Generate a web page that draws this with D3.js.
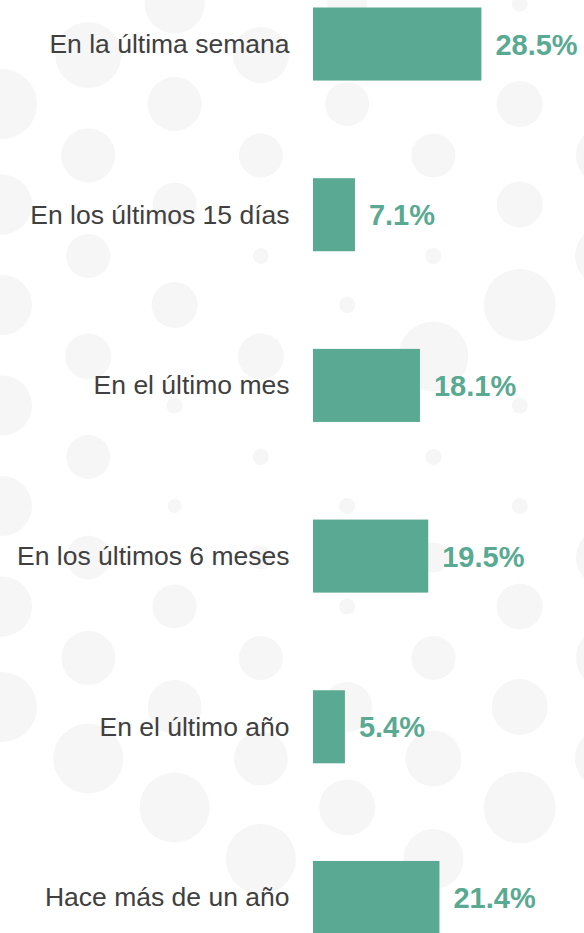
<!DOCTYPE html>
<meta charset="utf-8">
<style>

body {
  margin: 0;
  background: #fff;
}

.label {
  font: 26.5px "Liberation Sans", Arial, sans-serif;
  fill: #404040;
}

.value {
  font: bold 29px "Liberation Sans", Arial, sans-serif;
  fill: #5aa992;
}

.bar {
  fill: #5aa992;
}

.dot {
  fill: #f6f6f6;
}

</style>
<body>
<script src="https://cdn.jsdelivr.net/npm/d3@7"></script>
<script>

var categories = ["En la última semana", "En los últimos 15 días", "En el último mes",
		"En los últimos 6 meses", "En el último año", "Hace más de un año"],
	values = [28.5, 7.1, 18.1, 19.5, 5.4, 21.4],
	valueLabels = ["28.5%", "7.1%", "18.1%", "19.5%", "5.4%", "21.4%"];

// background dots: radius per lattice cell, one row per column
var dotRadii = [
	[0, 35, 30, 30, 30, 30, 30, 35, 0, 0],
	[33, 27, 22, 23, 22, 22, 27, 35, 0, 0],
	[30, 27, 22, 23, 8, 7, 22, 27, 35, 0],
	[28, 22, 8, 23, 8, 12, 22, 27, 35, 0],
	[20, 22, 8, 8, 8, 8, 8, 25, 28, 0],
	[25, 22, 8, 35, 8, 15, 22, 28, 30, 0],
	[8, 23, 23, 36, 8, 8, 23, 28, 36, 0],
	[0, 30, 31, 0, 0, 30, 30, 31, 0, 0]
];

var width = 584,
	height = 933,
	svg = d3.select("body").append("svg")
		.attr("width", width)
		.attr("height", height);

// dotted backdrop
var dots = [];
dotRadii.forEach(function(col, c) {
	col.forEach(function(r, k) {
		if (r > 0) dots.push({c: c, k: k, r: r});
	});
});

var dotX = d3.scaleLinear().domain([0, 7]).range([2, 606]);

svg.append("g").selectAll("circle")
	.data(dots)
	.enter().append("circle")
	.attr("class", "dot")
	.attr("cx", function(d) { return dotX(d.c); })
	.attr("cy", function(d) { return (d.c % 2 ? 55 : 3.5) + d.k * 100.5; })
	.attr("r", function(d) { return d.r; });

var x = d3.scaleLinear()
	.domain([0, 28.5])
	.range([313, 481.4]);

var y = d3.scaleBand()
	.domain(categories)
	.range([7.5, 934])
	.paddingInner(0.572)
	.paddingOuter(0);

var row = svg.append("g").selectAll("g")
	.data(categories)
	.enter().append("g")
	.attr("transform", function(d) { return "translate(0," + (y(d) + y.bandwidth() / 2) + ")"; });

row.append("rect")
	.attr("class", "bar")
	.attr("x", x(0))
	.attr("y", -y.bandwidth() / 2)
	.attr("height", y.bandwidth())
	.attr("width", function(d, i) { return x(values[i]) - x(0); });

row.append("text")
	.attr("class", "label")
	.attr("x", 289.5)
	.attr("y", 9)
	.attr("text-anchor", "end")
	.text(function(d) { return d; });

row.append("text")
	.attr("class", "value")
	.attr("x", function(d, i) { return x(values[i]) + 14; })
	.attr("y", 10.5)
	.text(function(d, i) { return valueLabels[i]; });

</script>
</body>
</html>
